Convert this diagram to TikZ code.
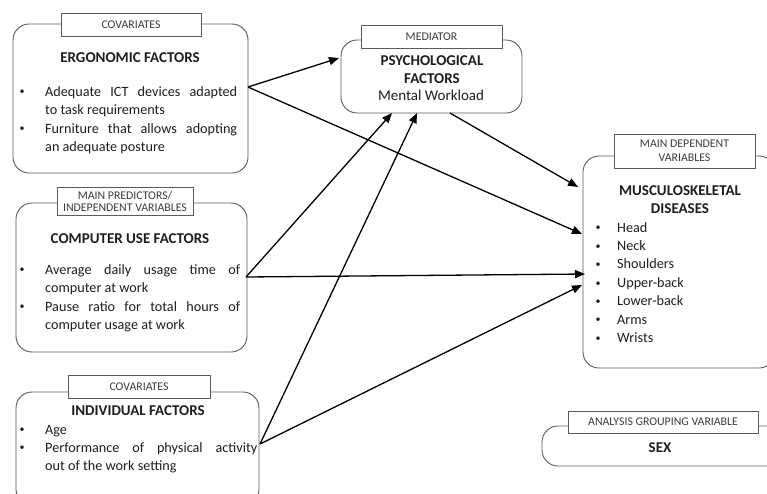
\documentclass[tikz,border=0pt]{standalone}
\usepackage{fontspec}
\setmainfont{Carlito}
\usetikzlibrary{arrows.meta}
\definecolor{edge}{HTML}{5A5A5A}
\definecolor{ink}{HTML}{1E1E1E}
\definecolor{tag}{HTML}{3C3C3C}
\begin{document}
\begin{tikzpicture}[x=1pt,y=-1pt,
  mainbox/.style={draw=edge, line width=0.9pt, rounded corners=16pt, rectangle, inner sep=0pt},
  tagbox/.style={draw=edge, line width=0.9pt, fill=white, rectangle, inner sep=0pt,
    font=\fontsize{11.8}{13}\selectfont, text=tag, align=center},
  head/.style={font=\fontsize{15}{18}\selectfont\bfseries, text=ink, anchor=base, inner sep=0pt, align=center},
  body/.style={font=\fontsize{14.2}{18}\selectfont, text=ink, anchor=base west, inner sep=0pt},
  sub/.style={font=\fontsize{15}{18}\selectfont, text=ink, anchor=base, inner sep=0pt},
  dot/.style={font=\fontsize{10}{12}\selectfont, text=ink, anchor=base, inner sep=0pt, yshift=1.2pt},
  link/.style={line width=1.3pt, draw=black, -{Triangle[length=10pt,width=8pt]}}]

\useasboundingbox (0,0) rectangle (767,493);
\clip (0,0) rectangle (767,493);

% ---------- main boxes ----------
\node[mainbox, minimum width=235pt, minimum height=149pt] (erg)   at (130.5,98.5) {};
\node[mainbox, minimum width=231pt, minimum height=149pt] (comp)  at (131.5,277.5) {};
\node[mainbox, minimum width=243pt, minimum height=113pt] (ind)   at (137.5,448.5) {};
\node[mainbox, minimum width=181pt, minimum height=73pt]  (psych) at (431.5,76.5) {};
\node[mainbox, minimum width=192pt, minimum height=212pt] (msd)   at (679,262) {};
\node[mainbox, minimum width=248pt, minimum height=40pt]  (sex)   at (666,446) {};

% ---------- tag boxes ----------
\node[tagbox, minimum width=140pt, minimum height=23pt] (ergtag)   at (131,24.5) {COVARIATES};
\node[tagbox, minimum width=136pt, minimum height=28pt] (comptag)  at (125,201) {MAIN PREDICTORS/\\[-1pt]INDEPENDENT VARIABLES};
\node[tagbox, minimum width=142pt, minimum height=23pt] (indtag)   at (139,386.5) {COVARIATES};
\node[tagbox, minimum width=141pt, minimum height=23pt] (psychtag) at (431.5,36.5) {MEDIATOR};
\node[tagbox, minimum width=141pt, minimum height=34pt] (msdtag)   at (684.5,151) {MAIN DEPENDENT\\[1pt]VARIABLES};
\node[tagbox, minimum width=190pt, minimum height=22pt] (sextag)   at (663,422) {ANALYSIS GROUPING VARIABLE};

% ---------- ergonomic factors ----------
\node[head] (ergh) at (130,62) {ERGONOMIC FACTORS};
\node[dot] (ergd1) at (22,96) {•};
\node[dot] (ergd2) at (22,133) {•};
\node[body] (erg1) at (45,96)    {\makebox[192pt][s]{Adequate ICT devices adapted}};
\node[body] (erg2) at (45,114.5) {to task requirements};
\node[body] (erg3) at (45,133)   {\makebox[192pt][s]{Furniture that allows adopting}};
\node[body] (erg4) at (45,151.5) {an adequate posture};

% ---------- computer use factors ----------
\node[head] (comph) at (130,243) {COMPUTER USE FACTORS};
\node[dot] (compd1) at (22,274) {•};
\node[dot] (compd2) at (22,311) {•};
\node[body] (comp1) at (45,274)   {\makebox[195pt][s]{Average daily usage time of}};
\node[body] (comp2) at (45,292.5) {computer at work};
\node[body] (comp3) at (45,311)   {\makebox[195pt][s]{Pause ratio for total hours of}};
\node[body] (comp4) at (45,329.5) {computer usage at work};

% ---------- individual factors ----------
\node[head] (indh) at (138,415) {INDIVIDUAL FACTORS};
\node[dot] (indd1) at (22,434) {•};
\node[dot] (indd2) at (22,452) {•};
\node[body] (ind1) at (45,434) {Age};
\node[body] (ind2) at (45,452) {\makebox[212pt][s]{Performance of physical activity}};
\node[body] (ind3) at (45,470) {out of the work setting};

% ---------- psychological factors (base = last line) ----------
\node[head] (psychh) at (432,83) {PSYCHOLOGICAL\\FACTORS};
\node[sub] (psych1) at (431,100) {Mental Workload};

% ---------- musculoskeletal diseases ----------
\node[head] (msdh) at (680,213) {MUSCULOSKELETAL\\DISEASES};
\foreach \t [count=\i] in {Head,Neck,Shoulders,Upper-back,Lower-back,Arms,Wrists}{
  \node[dot]  (msdd\i) at (598,{232+18.4*(\i-1)}) {•};
  \node[body] (msd\i)  at (617,{232+18.4*(\i-1)}) {\t};
}

% ---------- sex ----------
\node[head] (sexh) at (660,452) {SEX};

% ---------- connector end points ----------
\coordinate (ergOut)   at (248,87);
\coordinate (compOut)  at (246,277);
\coordinate (indOut)   at (260,444);
\coordinate (psychOut) at (450,113);
\coordinate (psychInE) at (339,58);
\coordinate (psychInC) at (392,113);
\coordinate (psychInI) at (417,113);
\coordinate (msdInP)   at (578,187);
\coordinate (msdInE)   at (582,234);
\coordinate (msdInC)   at (585,274);
\coordinate (msdInI)   at (582,285);

% ---------- connectors ----------
\draw[link] (ergOut) -- (psychInE);
\draw[link] (ergOut) -- (msdInE);
\draw[link] (psychOut) -- (msdInP);
\draw[link] (compOut) -- (psychInC);
\draw[link] (compOut) -- (msdInC);
\draw[link] (indOut) -- (psychInI);
\draw[link] (indOut) -- (msdInI);
\end{tikzpicture}
\end{document}
